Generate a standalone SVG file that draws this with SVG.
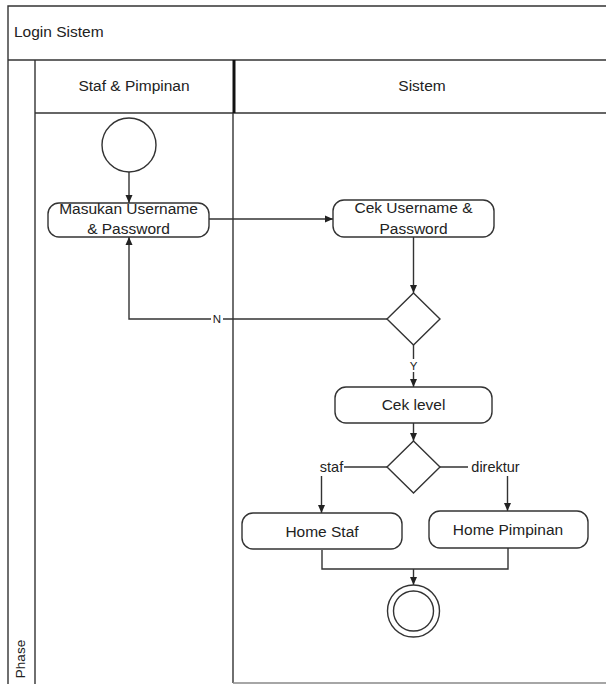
<svg xmlns="http://www.w3.org/2000/svg" width="606" height="684" viewBox="0 0 606 684">
  <style>
    .frame { fill: none; stroke: #333; stroke-width: 1.4; }
    .thick { fill: none; stroke: #111; stroke-width: 3; }
    .node { fill: #fff; stroke: #333; stroke-width: 1.4; }
    .edge { fill: none; stroke: #333; stroke-width: 1.4; }
    .txt { font-family: "Liberation Sans", Arial, sans-serif; font-size: 15.5px; fill: #222; text-anchor: middle; }
    .lbl { font-family: "Liberation Sans", Arial, sans-serif; font-size: 14.5px; fill: #222; text-anchor: middle; }
    .small { font-family: "Liberation Sans", Arial, sans-serif; font-size: 11.5px; fill: #222; text-anchor: middle; }
    .bg { fill: #fff; }
  </style>
  <defs>
    <marker id="arrow" markerUnits="userSpaceOnUse" markerWidth="9" markerHeight="9" refX="8" refY="4" orient="auto">
      <path d="M0,0.5 L8,4 L0,7.5 z" fill="#222"/>
    </marker>
  </defs>

  <rect x="0" y="0" width="606" height="684" fill="#fff"/>

  <!-- pool and swimlanes -->
  <g id="pool">
    <path class="frame" d="M8,684 V6 H612"/>
    <line class="frame" x1="8" y1="60" x2="612" y2="60"/>
    <line class="frame" x1="35" y1="113" x2="612" y2="113"/>
    <line class="frame" x1="35" y1="60" x2="35" y2="684"/>
    <line class="frame" x1="233" y1="113" x2="233" y2="683"/>
    <line class="thick" x1="234" y1="60" x2="234" y2="113"/>
    <line x1="233" y1="683" x2="612" y2="683" stroke="#888" stroke-width="1.4"/>
    <text class="txt" x="14" y="37" style="text-anchor:start">Login Sistem</text>
    <text class="txt" x="134" y="91">Staf &amp; Pimpinan</text>
    <text class="txt" x="422" y="91">Sistem</text>
    <text class="txt" x="0" y="0" style="font-size:13.5px" transform="translate(25,659) rotate(-90)">Phase</text>
  </g>

  <!-- connectors -->
  <g id="connectors">
    <line class="edge" x1="129" y1="172" x2="129" y2="203" marker-end="url(#arrow)"/>
    <line class="edge" x1="209" y1="219" x2="333" y2="219" marker-end="url(#arrow)"/>
    <line class="edge" x1="413.5" y1="237" x2="413.5" y2="293" marker-end="url(#arrow)"/>
    <path class="edge" d="M387,319 H129 V237" marker-end="url(#arrow)"/>
    <rect class="bg" x="211" y="312" width="12" height="14"/>
    <text class="small" x="217" y="323">N</text>
    <line class="edge" x1="413.5" y1="345" x2="413.5" y2="387" marker-end="url(#arrow)"/>
    <rect class="bg" x="408" y="359" width="11" height="13"/>
    <text class="small" x="413.5" y="370">Y</text>
    <line class="edge" x1="413.5" y1="423" x2="413.5" y2="441" marker-end="url(#arrow)"/>
    <path class="edge" d="M387,467 H321.5 V513" marker-end="url(#arrow)"/>
    <rect class="bg" x="319" y="459" width="25" height="17"/>
    <text class="lbl" x="331.5" y="472">staf</text>
    <path class="edge" d="M440,467 H507.5 V511" marker-end="url(#arrow)"/>
    <rect class="bg" x="468" y="459" width="55" height="17"/>
    <text class="lbl" x="495.5" y="472">direktur</text>
    <path class="edge" d="M322,550 V569 H508 V548"/>
    <line class="edge" x1="413.5" y1="569" x2="413.5" y2="585" marker-end="url(#arrow)"/>
  </g>

  <!-- nodes -->
  <g id="start">
    <circle class="node" cx="129" cy="145" r="27"/>
  </g>
  <g id="masukan">
    <rect class="node" x="48" y="203" width="161" height="34" rx="11"/>
    <text class="txt" x="128.5" y="214">Masukan Username</text>
    <text class="txt" x="128.5" y="234">&amp; Password</text>
  </g>
  <g id="cek-username">
    <rect class="node" x="333" y="200" width="161" height="37" rx="11"/>
    <text class="txt" x="413.5" y="213">Cek Username &amp;</text>
    <text class="txt" x="413.5" y="234">Password</text>
  </g>
  <g id="decision-login">
    <polygon class="node" points="413.5,293 440,319 413.5,345 387,319"/>
  </g>
  <g id="cek-level">
    <rect class="node" x="335" y="387" width="157" height="36" rx="11"/>
    <text class="txt" x="413.5" y="410">Cek level</text>
  </g>
  <g id="decision-level">
    <polygon class="node" points="413.5,441 440,467 413.5,493 387,467"/>
  </g>
  <g id="home-staf">
    <rect class="node" x="242" y="513" width="160" height="36" rx="11"/>
    <text class="txt" x="322" y="537">Home Staf</text>
  </g>
  <g id="home-pimpinan">
    <rect class="node" x="429" y="511" width="159" height="37" rx="11"/>
    <text class="txt" x="508" y="535">Home Pimpinan</text>
  </g>
  <g id="end">
    <circle class="node" cx="413.5" cy="611" r="26"/>
    <circle class="node" cx="413.5" cy="611" r="20"/>
  </g>
</svg>
